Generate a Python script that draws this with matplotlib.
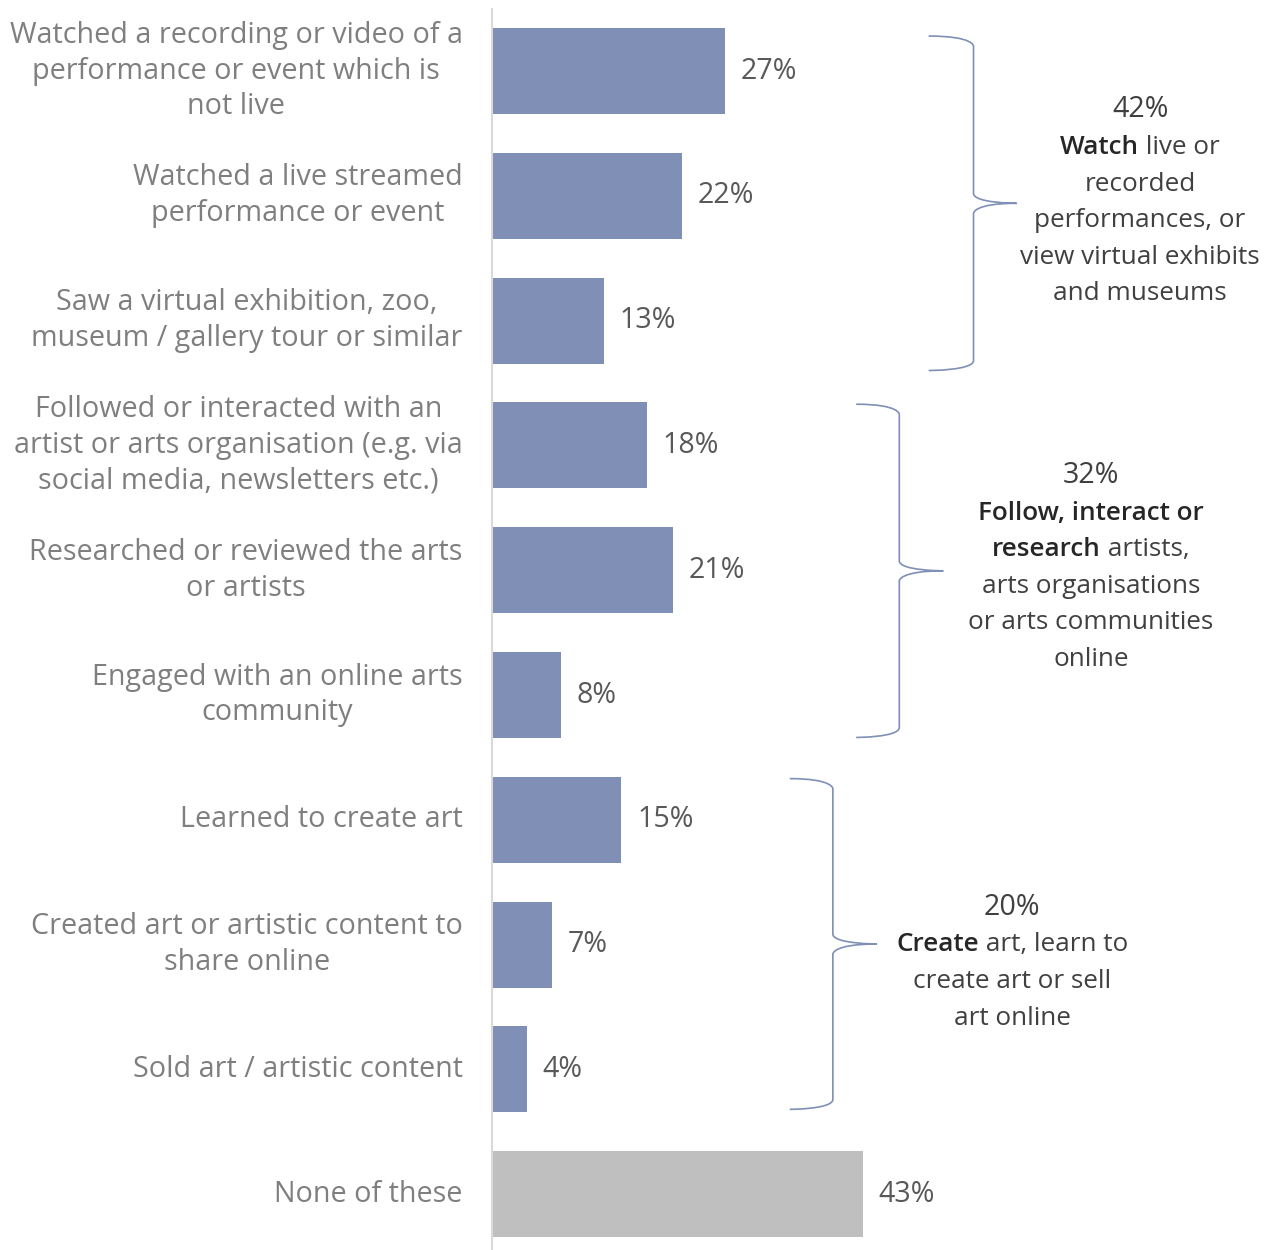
import matplotlib
matplotlib.use("Agg")
import matplotlib.pyplot as plt
import matplotlib.transforms as mtransforms
from matplotlib.path import Path
from matplotlib.patches import PathPatch

plt.rcParams['font.family'] = ['Open Sans', 'DejaVu Sans']

categories = [
    "Watched a recording or video of a\nperformance or event which is\nnot live",
    "Watched a live streamed\nperformance or event",
    "Saw a virtual exhibition, zoo,\nmuseum / gallery tour or similar",
    "Followed or interacted with an\nartist or arts organisation (e.g. via\nsocial media, newsletters etc.)",
    "Researched or reviewed the arts\nor artists",
    "Engaged with an online arts\ncommunity",
    "Learned to create art",
    "Created art or artistic content to\nshare online",
    "Sold art / artistic content",
    "None of these",
]
values = [27, 22, 13, 18, 21, 8, 15, 7, 4, 43]

# groups: rows covered by each brace, group total and its description
group_first = [0, 3, 6]
group_last = [2, 5, 8]
group_totals = ["42%", "32%", "20%"]
group_lines = [
    [[("Watch", True), (" live or", False)],
     [("recorded", False)],
     [("performances, or", False)],
     [("view virtual exhibits", False)],
     [("and museums", False)]],
    [[("Follow, interact or", True)],
     [("research", True), (" artists,", False)],
     [("arts organisations", False)],
     [("or arts communities", False)],
     [("online", False)]],
    [[("Create", True), (" art, learn to", False)],
     [("create art or sell", False)],
     [("art online", False)]],
]

BAR = "#7f8fb6"
NONE_BAR = "#bfbfbf"
LABEL = "#7f7f7f"
VALUE = "#595959"
NOTE = "#404040"
BRACE = "#7f8fb6"

fig = plt.figure(figsize=(12.79, 12.5), dpi=100)
ax = fig.add_axes([492 / 1279, 0, 1 - 492 / 1279, 1 - 8.6 / 1250])
ax.set_xlim(0, 91.2)
ax.set_ylim(9.447, -0.5)

rows = list(range(len(values)))
colors = [BAR] * (len(values) - 1) + [NONE_BAR]
ax.barh(rows, values, height=0.69, color=colors)

for r, v in zip(rows, values):
    ax.text(v + 1.8, r, f"{v}%", va="center", ha="left", fontsize=20.6, color=VALUE)

for r, c in zip(rows, categories):
    ax.text(-3.4, r, c, va="center", ha="right", fontsize=20.7, color=LABEL,
            linespacing=1.31, multialignment="center")

ax.set_xticks([])
ax.set_yticks([])
for s in ["top", "right", "bottom"]:
    ax.spines[s].set_visible(False)
ax.spines["left"].set_color("#d9d9d9")
ax.spines["left"].set_linewidth(1.5)


def brace(x_tip, x_spine, x_point, y0, y1):
    ym = (y0 + y1) / 2
    c = 0.08
    verts = [(x_tip, y0),
             (x_spine, y0), (x_spine, y0 + c), (x_spine, y0 + c),
             (x_spine, ym - c),
             (x_spine, ym), (x_point, ym), (x_point, ym),
             (x_spine, ym), (x_spine, ym + c), (x_spine, ym + c),
             (x_spine, y1 - c),
             (x_spine, y1), (x_tip, y1), (x_tip, y1)]
    codes = ([Path.MOVETO] + [Path.CURVE4] * 3 + [Path.LINETO] + [Path.CURVE4] * 3
             + [Path.CURVE4] * 3 + [Path.LINETO] + [Path.CURVE4] * 3)
    ax.add_patch(PathPatch(Path(verts, codes), fill=False, edgecolor=BRACE,
                           lw=1.2, clip_on=False))


def rich_line(x, y, parts, size=18.8):
    # mixed bold / regular pieces centred on x
    fig.canvas.draw()
    renderer = fig.canvas.get_renderer()
    items = []
    for text, bold in parts:
        t = ax.text(x, y, text, ha="left", va="center", fontsize=size,
                    color="#262626" if bold else NOTE,
                    fontweight="semibold" if bold else "normal")
        w = t.get_window_extent(renderer).width
        items.append((t, w))
    total = sum(w for _, w in items)
    dx = -total / 2
    for t, w in items:
        t.set_transform(mtransforms.offset_copy(ax.transData, fig, x=dx, y=0, units="dots"))
        dx += w


# brace geometry: tip x, spine x, point x (data units) and vertical span
brace_x = [(50.6, 55.8, 60.8), (42.2, 47.2, 52.3), (34.5, 39.5, 44.6)]
brace_pad = [(0.28, 0.40), (0.33, 0.34), (0.33, 0.32)]
note_x = [75.1, 69.4, 60.3]
note_top = [0.31, 3.24, 6.70]
step = 0.293
for g in range(3):
    y0 = group_first[g] - brace_pad[g][0]
    y1 = group_last[g] + brace_pad[g][1]
    bx = brace_x[g]
    brace(bx[0], bx[1], bx[2], y0, y1)
    ax.text(note_x[g], note_top[g], group_totals[g], ha="center", va="center",
            fontsize=20.6, color=NOTE)
    for i, parts in enumerate(group_lines[g]):
        rich_line(note_x[g], note_top[g] + 0.01 + step * (i + 1), parts)

fig.savefig("out.png", dpi=100)
